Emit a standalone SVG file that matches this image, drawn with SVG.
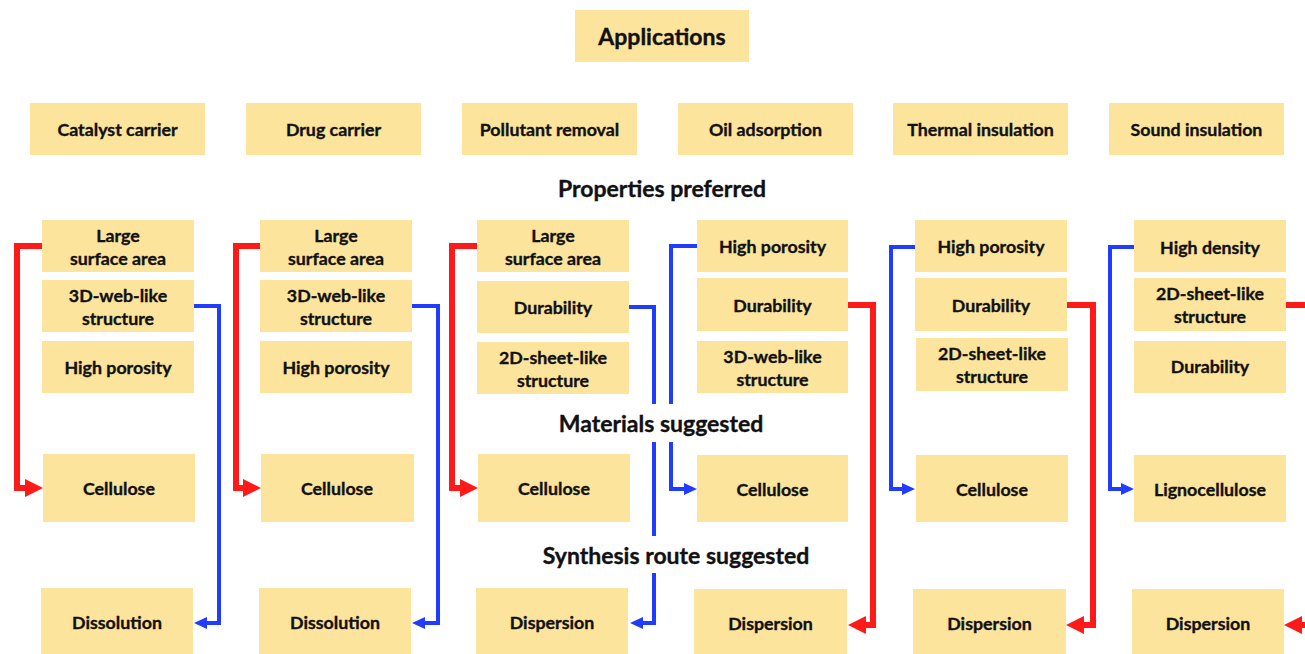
<svg xmlns="http://www.w3.org/2000/svg" width="1305" height="654" viewBox="0 0 1305 654">
<style>
.box{fill:#FCE49C}
text{font-family:Lato,"Open Sans","Liberation Sans",sans-serif;font-weight:bold;fill:#111;stroke:#111;stroke-width:0.35;text-anchor:middle;dominant-baseline:central}
.t{font-size:17.8px}
.h{font-size:23px}
.r{fill:none;stroke:#FF1A1A;stroke-width:6;stroke-linejoin:miter}
.b{fill:none;stroke:#1F3CFF;stroke-width:4;stroke-linejoin:miter}
</style>
<defs>
<marker id="ar" markerUnits="userSpaceOnUse" markerWidth="18" markerHeight="18" refX="0" refY="9" orient="auto" viewBox="0 0 18 18"><path d="M0,0 L18,9 L0,18 z" fill="#FF1A1A"/></marker>
<marker id="ab" markerUnits="userSpaceOnUse" markerWidth="13" markerHeight="12" refX="0" refY="6" orient="auto" viewBox="0 0 13 12"><path d="M0,0 L13,6 L0,12 z" fill="#1F3CFF"/></marker>
</defs>
<rect width="1305" height="654" fill="#fff"/>

<g id="applications"><rect class="box" x="575" y="10" width="174" height="52"/><text class="h" x="662" y="36">Applications</text></g>

<g id="app1"><rect class="box" x="30" y="103" width="175" height="52"/><text class="t" x="117.5" y="129">Catalyst carrier</text></g>
<g id="app2"><rect class="box" x="246" y="103" width="175" height="52"/><text class="t" x="333.5" y="129">Drug carrier</text></g>
<g id="app3"><rect class="box" x="462" y="103" width="175" height="52"/><text class="t" x="549.5" y="129">Pollutant removal</text></g>
<g id="app4"><rect class="box" x="678" y="103" width="175" height="52"/><text class="t" x="765.5" y="129">Oil adsorption</text></g>
<g id="app5"><rect class="box" x="893" y="103" width="175" height="52"/><text class="t" x="980.5" y="129">Thermal insulation</text></g>
<g id="app6"><rect class="box" x="1109" y="103" width="175" height="52"/><text class="t" x="1196.5" y="129">Sound insulation</text></g>

<g id="label-properties"><text class="h" x="662" y="188">Properties preferred</text></g>
<g id="label-materials"><text class="h" x="661" y="423">Materials suggested</text></g>
<g id="label-synthesis"><text class="h" x="676" y="555">Synthesis route suggested</text></g>

<!-- column 1 -->
<g id="c1p1"><rect class="box" x="42" y="220" width="152" height="52"/><text class="t" x="118" y="235">Large</text><text class="t" x="118" y="258">surface area</text></g>
<g id="c1p2"><rect class="box" x="42" y="280" width="152" height="52"/><text class="t" x="118" y="295">3D-web-like</text><text class="t" x="118" y="318">structure</text></g>
<g id="c1p3"><rect class="box" x="42" y="341" width="152" height="52"/><text class="t" x="118" y="367">High porosity</text></g>
<g id="c1m"><rect class="box" x="43" y="454" width="152" height="68"/><text class="t" x="119" y="488">Cellulose</text></g>
<g id="c1s"><rect class="box" x="41" y="588" width="152" height="68"/><text class="t" x="117" y="622">Dissolution</text></g>

<!-- column 2 -->
<g id="c2p1"><rect class="box" x="260" y="220" width="152" height="52"/><text class="t" x="336" y="235">Large</text><text class="t" x="336" y="258">surface area</text></g>
<g id="c2p2"><rect class="box" x="260" y="280" width="152" height="52"/><text class="t" x="336" y="295">3D-web-like</text><text class="t" x="336" y="318">structure</text></g>
<g id="c2p3"><rect class="box" x="260" y="341" width="152" height="52"/><text class="t" x="336" y="367">High porosity</text></g>
<g id="c2m"><rect class="box" x="261" y="454" width="153" height="68"/><text class="t" x="337" y="488">Cellulose</text></g>
<g id="c2s"><rect class="box" x="259" y="588" width="152" height="68"/><text class="t" x="335" y="622">Dissolution</text></g>

<!-- column 3 -->
<g id="c3p1"><rect class="box" x="477" y="220" width="152" height="52"/><text class="t" x="553" y="235">Large</text><text class="t" x="553" y="258">surface area</text></g>
<g id="c3p2"><rect class="box" x="477" y="281" width="152" height="52"/><text class="t" x="553" y="307">Durability</text></g>
<g id="c3p3"><rect class="box" x="477" y="342" width="152" height="52"/><text class="t" x="553" y="357">2D-sheet-like</text><text class="t" x="553" y="380">structure</text></g>
<g id="c3m"><rect class="box" x="478" y="454" width="152" height="68"/><text class="t" x="554" y="488">Cellulose</text></g>
<g id="c3s"><rect class="box" x="476" y="588" width="152" height="68"/><text class="t" x="552" y="622">Dispersion</text></g>

<!-- column 4 -->
<g id="c4p1"><rect class="box" x="697" y="220" width="151" height="52"/><text class="t" x="772.5" y="246">High porosity</text></g>
<g id="c4p2"><rect class="box" x="697" y="278" width="151" height="53"/><text class="t" x="772.5" y="305">Durability</text></g>
<g id="c4p3"><rect class="box" x="697" y="341" width="151" height="52"/><text class="t" x="772.5" y="356">3D-web-like</text><text class="t" x="772.5" y="379">structure</text></g>
<g id="c4m"><rect class="box" x="697" y="455" width="151" height="67"/><text class="t" x="772.5" y="489">Cellulose</text></g>
<g id="c4s"><rect class="box" x="694" y="589" width="153" height="67"/><text class="t" x="770.5" y="623">Dispersion</text></g>

<!-- column 5 -->
<g id="c5p1"><rect class="box" x="915" y="220" width="152" height="52"/><text class="t" x="991" y="246">High porosity</text></g>
<g id="c5p2"><rect class="box" x="915" y="278" width="152" height="53"/><text class="t" x="991" y="305">Durability</text></g>
<g id="c5p3"><rect class="box" x="916" y="338" width="152" height="53"/><text class="t" x="992" y="353">2D-sheet-like</text><text class="t" x="992" y="376">structure</text></g>
<g id="c5m"><rect class="box" x="916" y="455" width="152" height="67"/><text class="t" x="992" y="489">Cellulose</text></g>
<g id="c5s"><rect class="box" x="913" y="589" width="153" height="67"/><text class="t" x="989.5" y="623">Dispersion</text></g>

<!-- column 6 -->
<g id="c6p1"><rect class="box" x="1134" y="220" width="152" height="52"/><text class="t" x="1210" y="247">High density</text></g>
<g id="c6p2"><rect class="box" x="1134" y="278" width="152" height="53"/><text class="t" x="1210" y="293">2D-sheet-like</text><text class="t" x="1210" y="316">structure</text></g>
<g id="c6p3"><rect class="box" x="1134" y="341" width="152" height="52"/><text class="t" x="1210" y="366">Durability</text></g>
<g id="c6m"><rect class="box" x="1134" y="455" width="152" height="67"/><text class="t" x="1210" y="489">Lignocellulose</text></g>
<g id="c6s"><rect class="box" x="1132" y="589" width="152" height="67"/><text class="t" x="1208" y="623">Dispersion</text></g>

<g id="connectors">
<path class="r" d="M42,246 H17 V488 H25" marker-end="url(#ar)"/>
<path class="b" d="M194,306 H219 V623 H207" marker-end="url(#ab)"/>
<path class="r" d="M260,246 H236 V488 H243" marker-end="url(#ar)"/>
<path class="b" d="M412,306 H438 V623 H425" marker-end="url(#ab)"/>
<path class="r" d="M477,246 H452 V488 H460" marker-end="url(#ar)"/>
<path class="b" d="M629,307 H654 V404"/>
<path class="b" d="M654,442 V536"/>
<path class="b" d="M654,573 V623 H643" marker-end="url(#ab)"/>
<path class="b" d="M697,246 H671 V404"/>
<path class="b" d="M671,442 V489 H684" marker-end="url(#ab)"/>
<path class="r" d="M848,305 H873 V625 H866" marker-end="url(#ar)"/>
<path class="b" d="M915,247 H891 V489 H902" marker-end="url(#ab)"/>
<path class="r" d="M1067,305 H1093 V625 H1084" marker-end="url(#ar)"/>
<path class="b" d="M1134,247 H1110 V489 H1121" marker-end="url(#ab)"/>
<path class="r" d="M1286,305 H1312 V625 H1302" marker-end="url(#ar)"/>
</g>
</svg>
